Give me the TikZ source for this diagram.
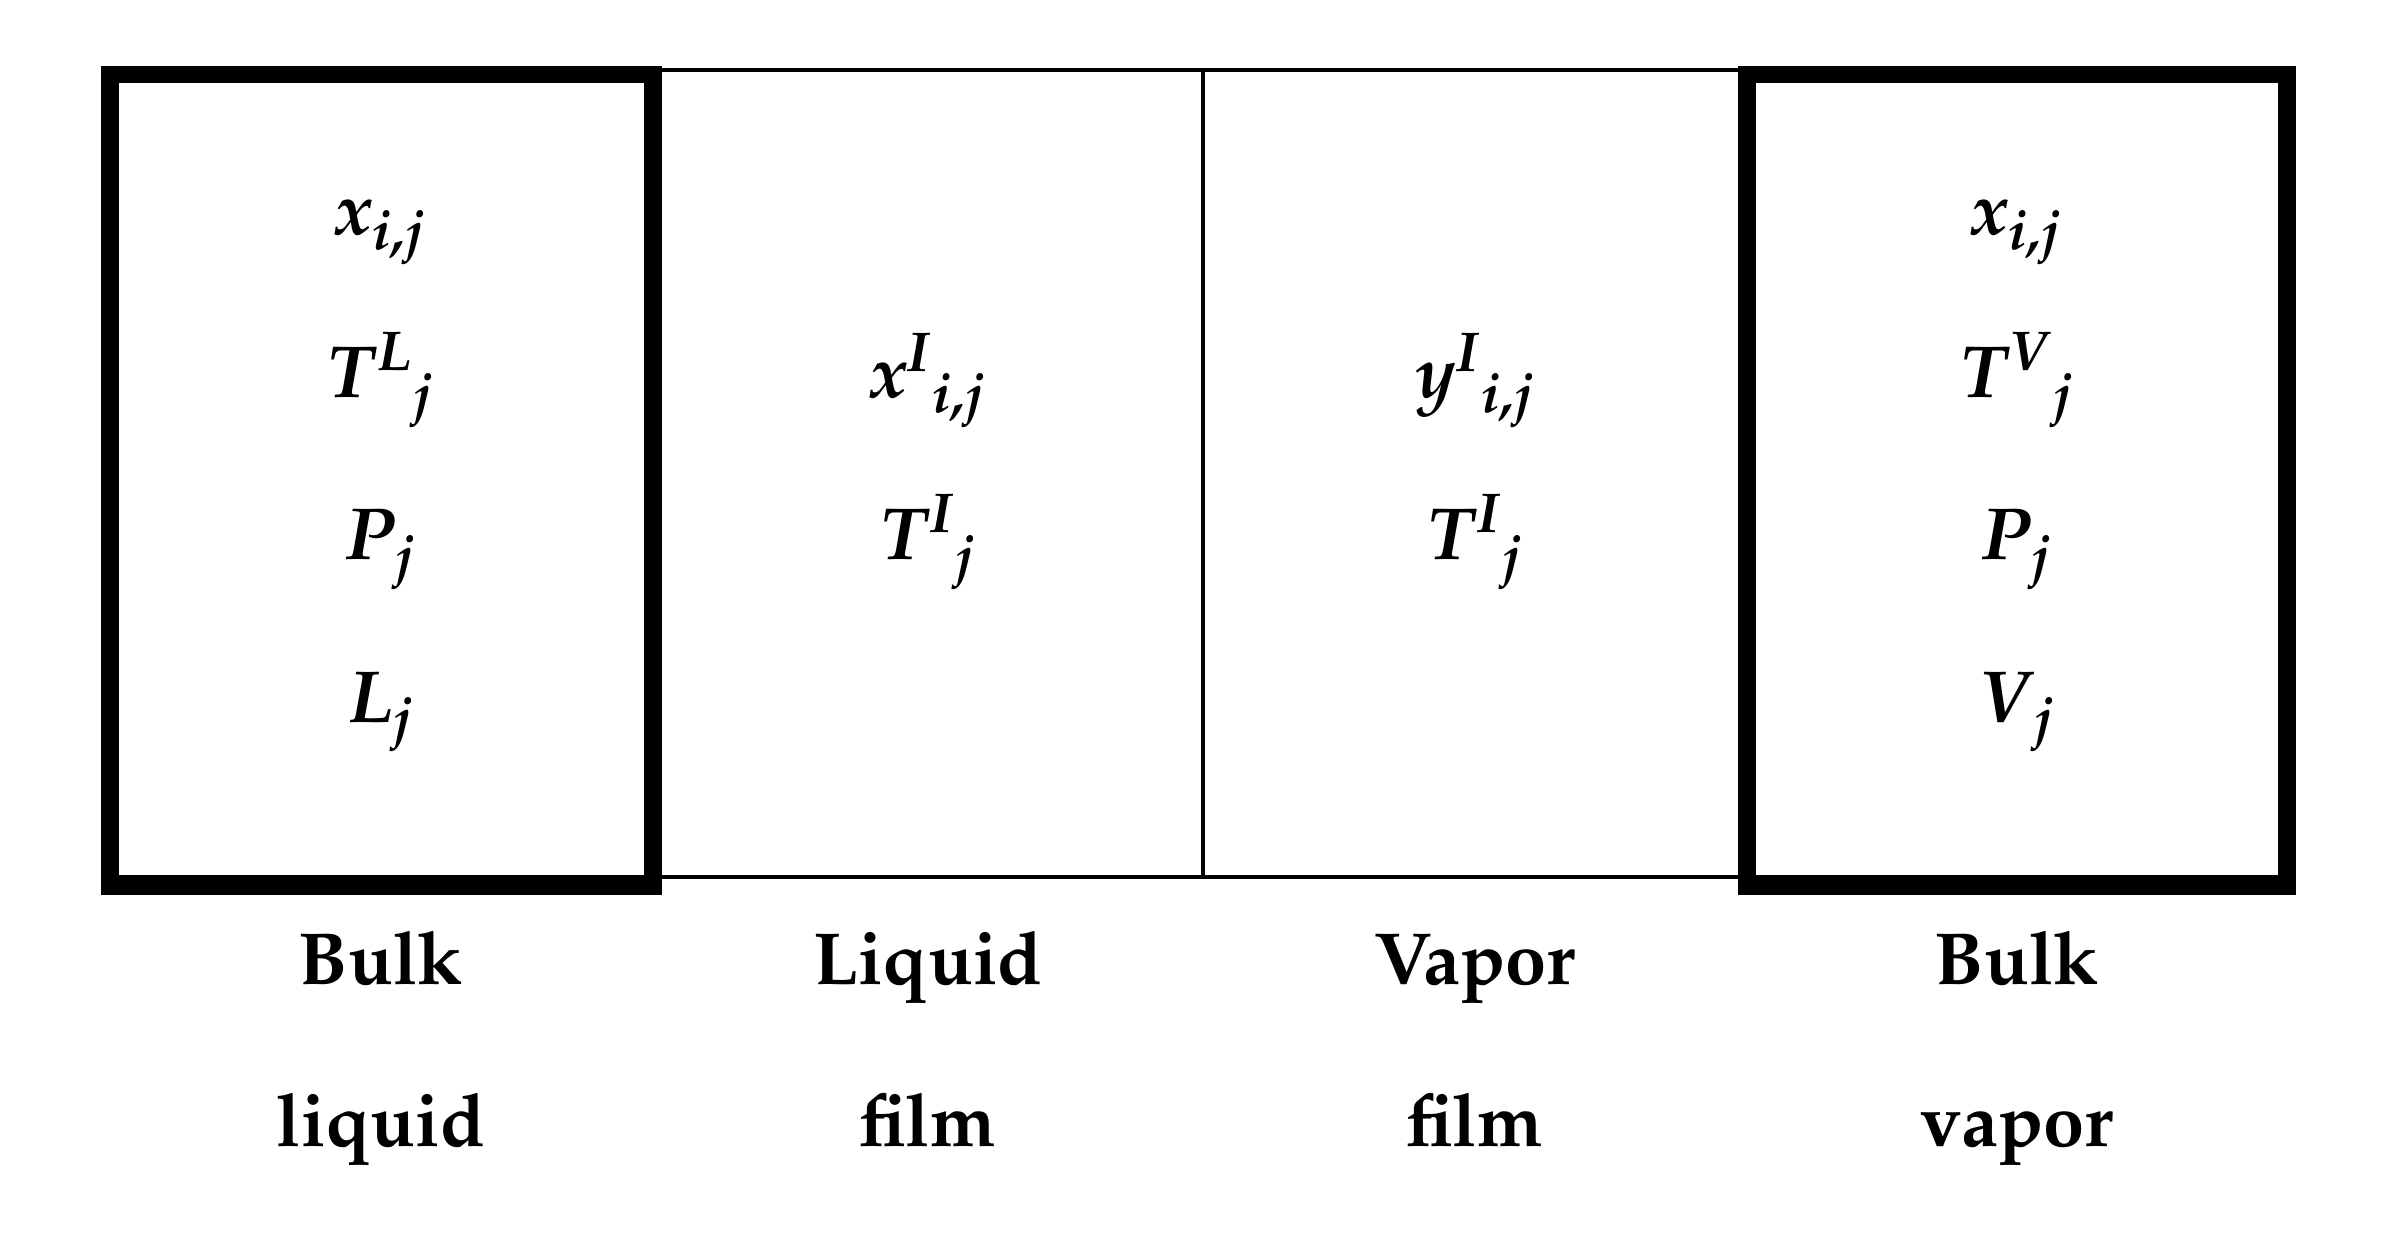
\documentclass[tikz,border=0pt]{standalone}
\usepackage[T1]{fontenc}
\usepackage{mathpazo}
\usepackage{amsmath}
\newcommand{\bvar}[1]{\textbf{\textit{#1}}}
\begin{document}
\begin{tikzpicture}[x=0.01cm,y=-0.01cm,
  thickbox/.style={draw=black,line width=5pt},
  thinline/.style={draw=black,line width=1pt},
  var/.style={anchor=base,inner sep=0pt,font=\fontsize{21}{25}\selectfont},
  lab/.style={anchor=base,inner sep=0pt,font=\fontsize{21}{25}\selectfont\bfseries}]
\useasboundingbox[fill=white] (0,0) rectangle (2401,1240);
% thin frame and divider
\draw[thinline] (110,70) rectangle (2287,877);
\coordinate (divtop) at (1203,70);
\coordinate (divbot) at (1203,877);
\draw[thinline] (divtop) -- (divbot);
% thick boxes
\draw[thickbox] (110,74.5) rectangle (653,886.5);
\draw[thickbox] (1747,74.5) rectangle (2287,886.5);
% bulk liquid
\node[var] (bl1) at (381,235) {$\bvar{x}_{\bvar{i,j}}$};
\node[var] (bl2) at (381,398) {$\bvar{T}^{\bvar{L}}{}_{\bvar{j}}$};
\node[var] (bl3) at (381,560) {$\bvar{P}_{\bvar{j}}$};
\node[var] (bl4) at (381,722) {$\bvar{L}_{\bvar{j}}$};
% liquid film
\node[var] (lf1) at (928,398) {$\bvar{x}^{\bvar{I}}{}_{\bvar{i,j}}$};
\node[var] (lf2) at (928,560) {$\bvar{T}^{\bvar{I}}{}_{\bvar{j}}$};
% vapor film
\node[var] (vf1) at (1475,398) {$\bvar{y}^{\bvar{I}}{}_{\bvar{i,j}}$};
\node[var] (vf2) at (1475,560) {$\bvar{T}^{\bvar{I}}{}_{\bvar{j}}$};
% bulk vapor
\node[var] (bv1) at (2017,235) {$\bvar{x}_{\bvar{i,j}}$};
\node[var] (bv2) at (2017,398) {$\bvar{T}^{\bvar{V}}{}_{\bvar{j}}$};
\node[var] (bv3) at (2017,560) {$\bvar{P}_{\bvar{j}}$};
\node[var] (bv4) at (2017,722) {$\bvar{V}_{\bvar{j}}$};
% labels
\node[lab] (l1a) at (381,984) {Bulk};
\node[lab] (l1b) at (381,1146) {liquid};
\node[lab] (l2a) at (928,984) {Liquid};
\node[lab] (l2b) at (928,1146) {film};
\node[lab] (l3a) at (1475,984) {Vapor};
\node[lab] (l3b) at (1475,1146) {film};
\node[lab] (l4a) at (2017,984) {Bulk};
\node[lab] (l4b) at (2017,1146) {vapor};
\end{tikzpicture}
\end{document}
